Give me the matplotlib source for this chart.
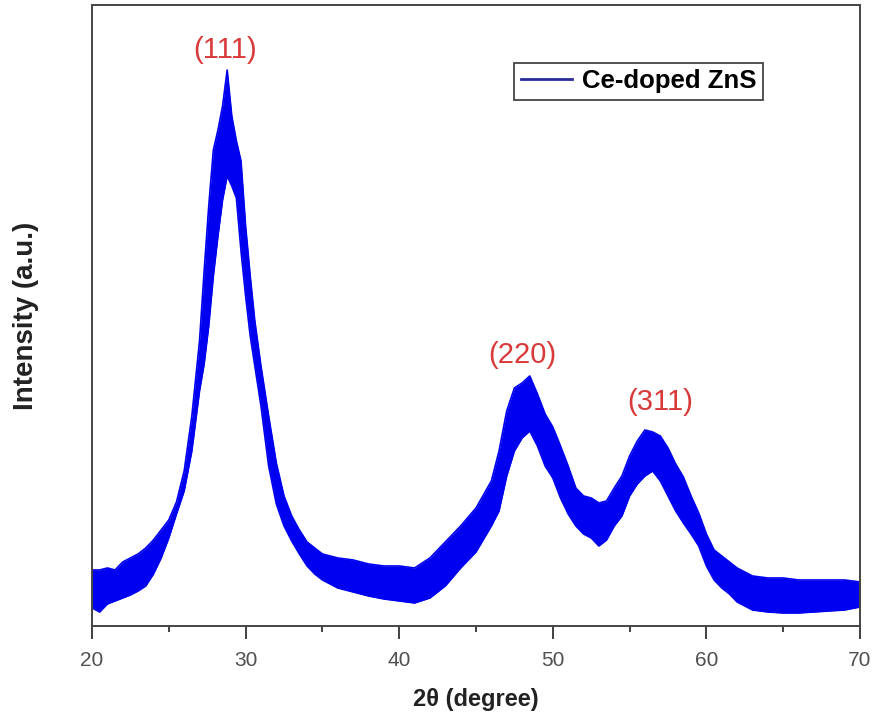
import numpy as np
import matplotlib.pyplot as plt
from matplotlib.ticker import MultipleLocator

plt.rcParams['font.family'] = ['Liberation Sans', 'DejaVu Sans']

# --- XRD trace: upper / lower edge of the noisy band ---
two_theta = [20.0, 20.5, 21.0, 21.5, 22.0, 22.5, 23.0, 23.5, 24.0, 24.5,
             25.0, 25.5, 26.0, 26.5, 27.0, 27.3, 27.6, 27.9, 28.2, 28.5,
             28.8, 29.1, 29.4, 29.7, 30.0, 30.3, 30.6, 31.0, 31.5, 32.0,
             32.5, 33.0, 33.5, 34.0, 34.5, 35.0, 36.0, 37.0, 38.0, 39.0,
             40.0, 41.0, 42.0, 43.0, 44.0, 45.0, 46.0, 46.5, 47.0, 47.5,
             48.0, 48.5, 49.0, 49.5, 50.0, 50.5, 51.0, 51.5, 52.0, 52.5,
             53.0, 53.5, 54.0, 54.5, 55.0, 55.5, 56.0, 56.5, 57.0, 57.5,
             58.0, 58.5, 59.0, 59.5, 60.0, 60.5, 61.0, 61.5, 62.0, 62.5,
             63.0, 64.0, 65.0, 66.0, 67.0, 68.0, 69.0, 70.0]

upper = [56, 56, 58, 56, 64, 68, 72, 78, 86, 96,
         106, 124, 155, 210, 285, 355, 420, 476, 496, 520,
         556, 510, 485, 465, 400, 350, 305, 260, 210, 163,
         130, 110, 96, 84, 78, 72, 68, 66, 62, 60,
         60, 58, 68, 84, 100, 118, 145, 175, 215, 238,
         243, 250, 232, 212, 199, 180, 160, 138, 130, 128,
         123, 125, 138, 150, 170, 185, 196, 194, 190, 178,
         162, 149, 130, 113, 92, 76, 70, 64, 58, 54,
         50, 48, 48, 46, 46, 46, 46, 44]

lower = [18, 14, 22, 25, 28, 31, 35, 40, 52, 68,
         88, 112, 135, 175, 235, 262, 300, 350, 390, 426,
         450, 440, 428, 375, 330, 290, 260, 220, 160, 122,
         100, 85, 72, 60, 52, 46, 38, 34, 30, 27,
         25, 23, 28, 40, 58, 74, 100, 115, 150, 175,
         188, 195, 180, 160, 148, 128, 112, 100, 92, 88,
         80, 86, 100, 110, 130, 142, 150, 155, 145, 130,
         115, 103, 92, 80, 60, 46, 38, 32, 24, 20,
         16, 14, 13, 13, 14, 15, 16, 19]

peak_labels = ['(111)', '(220)', '(311)']
peak_x = [28.66, 48.0, 56.98]
peak_y = [576, 271, 224]

blue = '#0000f0'

fig = plt.figure(figsize=(8.73, 7.22), dpi=100)
ax = fig.add_axes([0.1054, 0.1330, 0.8797, 0.8601])

ax.fill_between(two_theta, lower, upper, color=blue, linewidth=0)
ax.plot(two_theta, upper, color=blue, lw=1.2, label='Ce-doped ZnS')
ax.plot(two_theta, lower, color=blue, lw=1.2)

for lbl, px, py in zip(peak_labels, peak_x, peak_y):
    ax.text(px, py, lbl, color='#d83a3a', fontsize=21, ha='center', va='center')

ax.set_xlim(20, 70)
ax.set_ylim(0, 621)
ax.xaxis.set_major_locator(MultipleLocator(10))
ax.xaxis.set_minor_locator(MultipleLocator(5))
ax.tick_params(axis='x', which='major', direction='out', length=9, width=1.3,
               pad=9, labelsize=15, labelcolor='#505050', color='#333333')
ax.tick_params(axis='x', which='minor', direction='out', length=4, width=1.3,
               color='#333333')
ax.set_yticks([])
for s in ax.spines.values():
    s.set_color('#444444')
    s.set_linewidth(1.4)

ax.set_xlabel('2θ (degree)', fontsize=17, fontweight='bold', color='#222222', labelpad=13)
ax.set_ylabel('Intensity (a.u.)', fontsize=20, fontweight='bold', color='#222222', labelpad=38)

leg = ax.legend(loc='upper right', bbox_to_anchor=(0.874, 0.907), borderaxespad=0,
                fancybox=False, edgecolor='#444444', framealpha=1,
                prop={'size': 18.5, 'weight': 'bold'}, handlelength=2.0,
                handletextpad=0.4, borderpad=0.25)
leg.get_frame().set_linewidth(1.3)
leg.get_lines()[0].set_color('#2a2a9a')
leg.get_lines()[0].set_linewidth(2)

fig.savefig('out.png', dpi=100)
